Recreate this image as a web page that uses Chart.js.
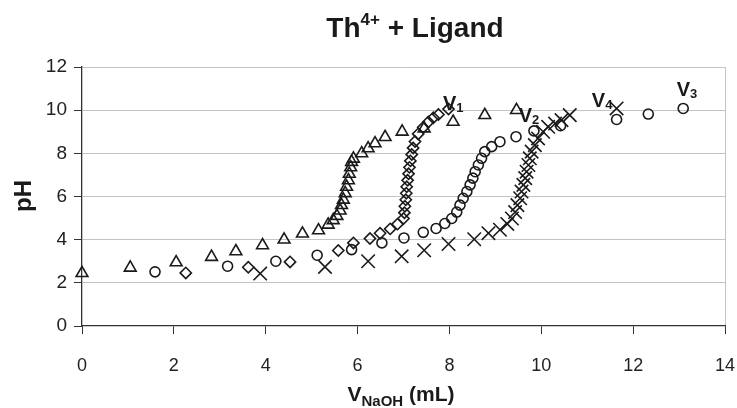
<!DOCTYPE html>
<html>
<head>
<meta charset="utf-8">
<script src="https://cdn.jsdelivr.net/npm/chart.js@4"></script>
<style>
  html, body { margin: 0; padding: 0; background: #fff; }
</style>
</head>
<body>
<canvas id="ctx" width="737" height="408"></canvas>
<script>
// Data (x = V NaOH in mL, y = pH)
const triX = [0, 1.05, 2.05, 2.82, 3.35, 3.93, 4.40, 4.80, 5.15, 5.36, 5.47, 5.55, 5.62, 5.65, 5.69, 5.73, 5.76, 5.80, 5.82, 5.85, 5.87, 5.91, 6.09, 6.23, 6.38, 6.60, 6.97, 7.45, 8.08, 8.77, 9.46];
const triY = [2.45, 2.70, 2.95, 3.20, 3.46, 3.74, 4.00, 4.28, 4.43, 4.69, 4.90, 5.10, 5.35, 5.60, 5.85, 6.15, 6.45, 6.75, 7.05, 7.35, 7.60, 7.75, 8.00, 8.23, 8.46, 8.75, 9.00, 9.15, 9.46, 9.77, 10.00];

const diaX = [2.26, 3.62, 4.53, 5.58, 5.91, 6.27, 6.49, 6.71, 6.87, 7.00, 7.02, 7.03, 7.05, 7.06, 7.07, 7.09, 7.11, 7.13, 7.15, 7.18, 7.21, 7.25, 7.32, 7.43, 7.54, 7.65, 7.76, 7.98];
const diaY = [2.46, 2.72, 2.97, 3.50, 3.85, 4.05, 4.30, 4.50, 4.72, 4.98, 5.25, 5.55, 5.85, 6.15, 6.45, 6.75, 7.05, 7.35, 7.65, 7.95, 8.25, 8.55, 8.90, 9.20, 9.45, 9.65, 9.80, 10.05];

const cirX = [1.59, 3.17, 4.22, 5.12, 5.87, 6.53, 7.01, 7.43, 7.71, 7.90, 8.05, 8.16, 8.23, 8.30, 8.38, 8.45, 8.51, 8.56, 8.63, 8.70, 8.77, 8.92, 9.10, 9.45, 9.84, 10.42, 11.64, 12.33, 13.09];
const cirY = [2.51, 2.77, 3.00, 3.28, 3.54, 3.85, 4.08, 4.34, 4.52, 4.75, 4.98, 5.28, 5.60, 5.92, 6.23, 6.54, 6.85, 7.15, 7.46, 7.77, 8.08, 8.31, 8.54, 8.77, 9.04, 9.28, 9.57, 9.82, 10.08];

const crsX = [3.88, 5.29, 6.23, 6.96, 7.45, 7.98, 8.54, 8.85, 9.10, 9.26, 9.36, 9.43, 9.48, 9.54, 9.57, 9.61, 9.65, 9.68, 9.72, 9.75, 9.79, 9.86, 9.93, 10.04, 10.15, 10.30, 10.44, 10.62, 11.64];
const crsY = [2.43, 2.74, 3.00, 3.23, 3.51, 3.80, 4.02, 4.30, 4.46, 4.73, 4.98, 5.28, 5.60, 5.92, 6.23, 6.54, 6.85, 7.15, 7.46, 7.77, 8.08, 8.38, 8.69, 9.00, 9.23, 9.38, 9.54, 9.77, 10.08];

// end point labels V1..V4 (left edge / baseline in data units)
const markSub = ['1', '2', '4', '3'];
const markX = [7.86, 9.51, 11.10, 12.95];
const markY = [10.00, 9.45, 10.14, 10.65];

const xTicks = [0, 2, 4, 6, 8, 10, 12, 14];
const yTicks = [0, 2, 4, 6, 8, 10, 12];

const FONT = '"Liberation Sans", Arial, Helvetica, sans-serif';
const INK = '#1a1a1a';

function pts(xs, ys) {
  return xs.map((x, i) => ({ x: x, y: ys[i] }));
}

// draws a run of bold text pieces [text, size, dy]
function drawRich(c, parts, x, y, center) {
  let w = 0;
  parts.forEach(p => { c.font = 'bold ' + p[1] + 'px ' + FONT; w += c.measureText(p[0]).width; });
  let cx = center ? x - w / 2 : x;
  parts.forEach(p => {
    c.font = 'bold ' + p[1] + 'px ' + FONT;
    c.fillText(p[0], cx, y + p[2]);
    cx += c.measureText(p[0]).width;
  });
}

const texts = {
  id: 'texts',
  afterDraw(chart) {
    const c = chart.ctx;
    const sx = chart.scales.x, sy = chart.scales.y;
    c.save();
    c.fillStyle = INK;
    c.textAlign = 'left';
    c.textBaseline = 'alphabetic';
    drawRich(c, [['Th', 28, 0], ['4+', 17, -12], [' + Ligand', 28, 0]], 415, 37, true);
    drawRich(c, [['V', 21, 0], ['NaOH', 15, 5], [' (mL)', 21, 0]], 401, 401, true);
    c.save();
    c.translate(31, 196);
    c.rotate(-Math.PI / 2);
    drawRich(c, [['pH', 24, 0]], 0, 0, true);
    c.restore();
    markSub.forEach((s, i) => {
      drawRich(c, [['V', 20, 0], [s, 13, 2]], sx.getPixelForValue(markX[i]), sy.getPixelForValue(markY[i]), false);
    });
    c.restore();
  }
};

function series(label, data, style, radius) {
  return {
    label: label,
    data: data,
    pointStyle: style,
    pointRadius: radius,
    pointBorderWidth: 1.6,
    borderColor: INK,
    backgroundColor: 'rgba(0,0,0,0)',
    showLine: false,
    clip: false
  };
}

Chart.defaults.font.family = FONT;
Chart.defaults.color = '#222';

new Chart(document.getElementById('ctx'), {
  type: 'scatter',
  data: {
    datasets: [
      series('tri', pts(triX, triY), 'triangle', 6.8),
      series('dia', pts(diaX, diaY), 'rectRot', 5.6),
      series('cir', pts(cirX, cirY), 'circle', 5.0),
      series('crs', pts(crsX, crsY), 'crossRot', 9.5)
    ]
  },
  options: {
    responsive: false,
    animation: false,
    events: [],
    layout: { padding: { left: 0, right: 12, top: 67, bottom: 0 } },
    plugins: { legend: { display: false }, title: { display: false }, tooltip: { enabled: false } },
    scales: {
      x: {
        type: 'linear',
        min: 0, max: 14,
        afterBuildTicks: s => { s.ticks = xTicks.map(v => ({ value: v })); },
        afterFit: s => { s.height = 82; s.paddingLeft = 0; s.paddingRight = 0; },
        ticks: { font: { size: 18 }, color: '#222', padding: 21, maxRotation: 0 },
        grid: {
          color: c => (c.tick && c.tick.value === 14) ? '#c4c4c4' : 'rgba(0,0,0,0)',
          tickColor: '#333',
          tickLength: 8
        },
        border: { color: '#333', width: 1.3 }
      },
      y: {
        min: 0, max: 12,
        afterBuildTicks: s => { s.ticks = yTicks.map(v => ({ value: v })); },
        afterFit: s => { s.width = 82; s.paddingTop = 0; s.paddingBottom = 0; },
        ticks: { font: { size: 19 }, color: '#222', padding: 7 },
        grid: {
          color: c => (c.tick && c.tick.value === 0) ? 'rgba(0,0,0,0)' : '#c4c4c4',
          tickColor: '#333',
          tickLength: 8
        },
        border: { color: '#333', width: 1.3 }
      }
    }
  },
  plugins: [texts]
});
</script>
</body>
</html>
